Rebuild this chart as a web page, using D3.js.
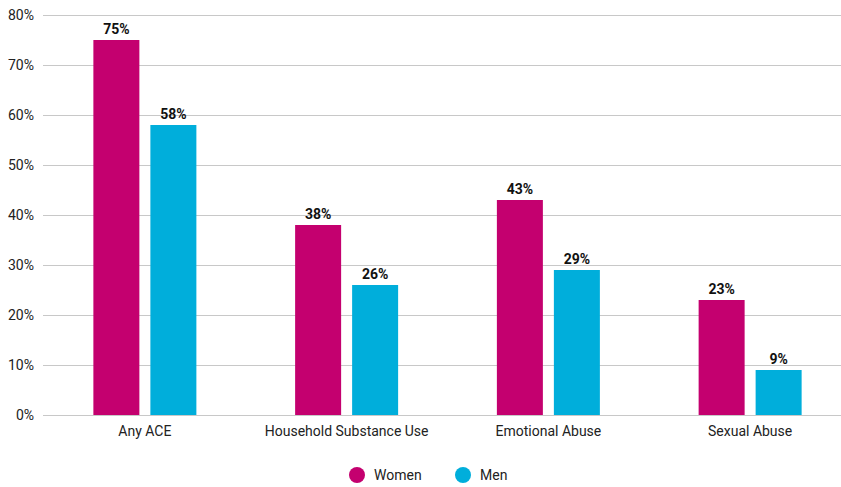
<!DOCTYPE html>
<html><head><meta charset="utf-8">
<script src="https://cdn.jsdelivr.net/npm/d3@7"></script>
<style>body{margin:0;background:#fff}svg{display:block;font-family:Roboto,sans-serif}</style>
</head><body><svg id="c" width="841" height="487"></svg>
<script>
const categories = ["Any ACE","Household Substance Use","Emotional Abuse","Sexual Abuse"];
const seriesNames = ["Women","Men"];
const women = [75,38,43,23];
const men = [58,26,29,9];
const yTicks = [0,10,20,30,40,50,60,70,80];
const colors = ["#C4006F","#00AEDB"];

const svg = d3.select("#c");
const x = d3.scaleBand().domain(categories).range([44,851]).paddingInner(0).paddingOuter(0);
const y = d3.scaleLinear().domain([0,80]).range([415,15]);

const yAxis = d3.axisLeft(y).tickValues(yTicks).tickFormat(d=>d+"%").tickSize(0).tickPadding(0);
const ga = svg.append("g").attr("transform","translate(34,0)").call(yAxis);
ga.select(".domain").remove();
ga.selectAll("text").attr("font-size",14).attr("fill","#222").attr("font-family","Roboto,sans-serif");
svg.append("g").selectAll("line").data(yTicks).join("line")
  .attr("x1",43).attr("x2",841).attr("y1",d=>y(d)+0.5).attr("y2",d=>y(d)+0.5)
  .attr("stroke","#c8c8c8").attr("stroke-width",1);

const data = categories.map((c,i)=>({c,vals:[women[i],men[i]]}));
const groups = svg.append("g").selectAll("g").data(data).join("g")
  .attr("transform",d=>`translate(${x(d.c)+x.bandwidth()/2-51.5},0)`);
const bw = 46;
groups.selectAll("rect").data(d=>d.vals.map((v,j)=>({v,j}))).join("rect")
  .attr("x",d=>d.j*57).attr("width",bw)
  .attr("y",d=>y(d.v)).attr("height",d=>y(0)-y(d.v)).attr("fill",d=>colors[d.j]);
groups.selectAll("text").data(d=>d.vals.map((v,j)=>({v,j}))).join("text")
  .attr("x",d=>d.j*57+bw/2).attr("y",d=>y(d.v)-6)
  .attr("text-anchor","middle").attr("font-size",14).attr("font-weight","bold").attr("fill","#111")
  .text(d=>d.v+"%");

svg.append("g").selectAll("text").data(categories).join("text")
  .attr("x",d=>x(d)+x.bandwidth()/2).attr("y",436)
  .attr("text-anchor","middle").attr("font-size",14).attr("fill","#222").text(d=>d);

const leg = svg.append("g");
const lx = [357,463];
seriesNames.forEach((s,i)=>{
  leg.append("circle").attr("cx",lx[i]).attr("cy",475).attr("r",8).attr("fill",colors[i]);
  leg.append("text").attr("x",lx[i]+17).attr("y",480).attr("font-size",14).attr("fill","#222").text(s);
});
</script></body></html>
